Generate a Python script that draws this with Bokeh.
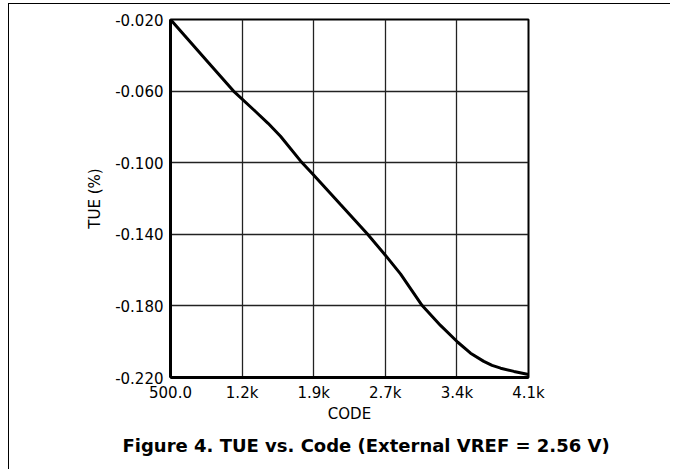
from bokeh.plotting import figure
from bokeh.models import Range1d, FixedTicker, Title, NumeralTickFormatter
from bokeh.embed import file_html
from bokeh.resources import INLINE

# data
code = [500, 902, 1133, 1354, 1480, 1605, 1806, 1933, 2208, 2476, 2660, 2810,
        3028, 3212, 3386, 3514, 3647, 3730, 3816, 3950, 4096]
tue = [-0.0200, -0.0454, -0.0600, -0.0714, -0.0780, -0.0852, -0.0990, -0.1066,
       -0.1234, -0.1397, -0.1518, -0.1621, -0.1798, -0.1909, -0.2003, -0.2064,
       -0.2110, -0.2132, -0.2148, -0.2166, -0.2183]

x_ticks = [500.0, 1219.2, 1938.4, 2657.6, 3376.8, 4096.0]
x_labels = ["500.0", "1.2k", "1.9k", "2.7k", "3.4k", "4.1k"]
y_ticks = [-0.22, -0.18, -0.14, -0.10, -0.06, -0.02]

title_text = "Figure 4. TUE vs. Code (External VREF = 2.56 V)"

FONT = "DejaVu Sans"

p = figure(width=662, height=466, output_backend="svg", toolbar_location=None,
           x_range=Range1d(x_ticks[0], x_ticks[-1]),
           y_range=Range1d(y_ticks[0], y_ticks[-1]),
           min_border_left=161, min_border_right=143,
           min_border_top=15, min_border_bottom=93)
p.background_fill_color = "white"
p.border_fill_color = "white"
p.outline_line_color = "black"
p.outline_line_width = 2
p.styles = {"margin-top": "3px", "margin-left": "8px",
            "border-top": "1px solid black", "border-left": "1px solid black"}

p.line(code, tue, line_color="black", line_width=3)

p.xaxis.ticker = FixedTicker(ticks=x_ticks)
p.xaxis.major_label_overrides = {t: l for t, l in zip(x_ticks, x_labels)}
p.yaxis.ticker = FixedTicker(ticks=y_ticks)
p.yaxis.formatter = NumeralTickFormatter(format="0.000")

for ax in (p.xaxis, p.yaxis):
    ax.axis_line_color = "black"
    ax.axis_line_width = 3
    ax.major_tick_out = 0
    ax.major_tick_in = 0
    ax.minor_tick_out = 0
    ax.minor_tick_in = 0
    ax.major_label_text_font = FONT
    ax.major_label_text_font_size = "15px"
    ax.major_label_text_color = "black"
    ax.axis_label_text_font = FONT
    ax.axis_label_text_font_size = "15px"
    ax.axis_label_text_font_style = "normal"
    ax.axis_label_text_color = "black"

p.xaxis.axis_label = "CODE"
p.yaxis.axis_label = "TUE (%)"
p.xaxis.major_label_standoff = 6
p.yaxis.major_label_standoff = 7
p.xaxis.axis_label_standoff = 0
p.yaxis.axis_label_standoff = 8

p.xgrid.grid_line_color = "#222222"
p.ygrid.grid_line_color = "#222222"
p.xgrid.grid_line_width = 1.3
p.ygrid.grid_line_width = 1.3

p.add_layout(Title(text=title_text, align="left", offset=-48, standoff=15,
                   text_font=FONT, text_font_size="18px",
                   text_font_style="bold", text_color="black"), "below")

open("out.html", "w").write(file_html(p, INLINE))
